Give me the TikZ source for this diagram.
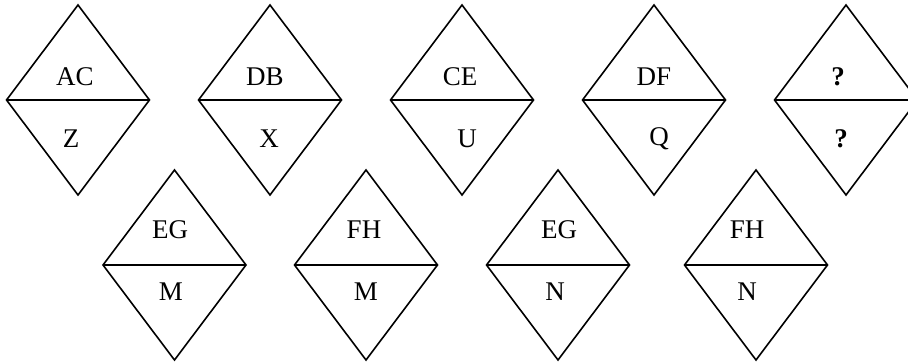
\documentclass[tikz,border=0pt]{standalone}
\usepackage{fontspec}
\setmainfont{Liberation Serif}
\tikzset{
  shapeline/.style={draw=black,line width=1.6pt,line join=miter},
  lbl/.style={inner sep=0pt,font=\fontsize{27}{31}\selectfont},
}
\newcommand\mydiamond[3]{% center x, mid y, half height
  \draw[shapeline] (#1-71.5,#2) -- (#1,#2+#3) -- (#1+71.5,#2) -- (#1,#2-#3) -- cycle;
  \draw[shapeline] (#1-71.5,#2) -- (#1+71.5,#2);
}
\begin{document}
\begin{tikzpicture}[x=1pt,y=1pt]
\useasboundingbox (0,0) rectangle (908,364);
\clip (0,0) rectangle (908,364);
% top row
\mydiamond{78}{264}{95}
\mydiamond{270}{264}{95}
\mydiamond{462}{264}{95}
\mydiamond{654}{264}{95}
\mydiamond{846}{264}{95}
% bottom row
\mydiamond{174.5}{99}{95}
\mydiamond{366}{99}{95}
\mydiamond{558}{99}{95}
\mydiamond{756}{99}{95}
% labels top row
\node[lbl] (t1u) at (75,287) {AC};
\node[lbl] (t1l) at (71,225) {Z};
\node[lbl] (t2u) at (265,287) {DB};
\node[lbl] (t2l) at (269,225) {X};
\node[lbl] (t3u) at (460,287) {CE};
\node[lbl] (t3l) at (467,225) {U};
\node[lbl] (t4u) at (654,287) {DF};
\node[lbl] (t4l) at (659,225) {Q};
\node[lbl] (t5u) at (838,287) {\bfseries ?};
\node[lbl] (t5l) at (841,225) {\bfseries ?};
% labels bottom row
\node[lbl] (b1u) at (170,134) {EG};
\node[lbl] (b1l) at (171,72) {M};
\node[lbl] (b2u) at (364,134) {FH};
\node[lbl] (b2l) at (366,72) {M};
\node[lbl] (b3u) at (559,134) {EG};
\node[lbl] (b3l) at (555,72) {N};
\node[lbl] (b4u) at (747,134) {FH};
\node[lbl] (b4l) at (747,72) {N};
\end{tikzpicture}
\end{document}
